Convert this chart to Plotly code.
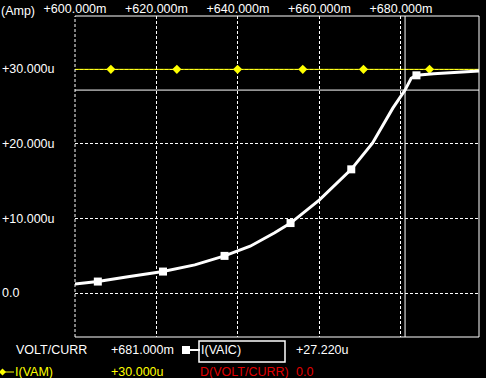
import plotly.graph_objects as go

# ---- data ----
x_ticks = [600, 620, 640, 660, 680]
x_tick_text = ["+600.000m", "+620.000m", "+640.000m", "+660.000m", "+680.000m"]
y_ticks = [0, 10, 20, 30]
y_tick_text = ["0.0", "+10.000u", "+20.000u", "+30.000u"]

vaic_x = [600, 605.6, 613, 621.6, 629.4, 636.7, 643, 649, 652.9, 660, 667.8, 673, 678, 681, 682.5, 683.8, 688, 693.6, 699.3]
vaic_y = [1.24, 1.56, 2.2, 2.9, 3.8, 5.0, 6.3, 8.1, 9.4, 12.5, 16.6, 20.1, 24.8, 27.22, 28.8, 29.2, 29.4, 29.6, 29.8]
vaic_mark_x = [605.6, 621.6, 636.7, 652.9, 667.8, 683.8]
vaic_mark_y = [1.56, 2.9, 5.0, 9.4, 16.6, 29.2]

vam_x = [600, 608.8, 625.0, 639.9, 655.9, 670.8, 687.0, 699.3]
vam_y = [30, 30, 30, 30, 30, 30, 30, 30]
vam_mark_x = [608.8, 625.0, 639.9, 655.9, 670.8, 687.0]
vam_mark_y = [30, 30, 30, 30, 30, 30]

cursor_x = 681.0
cursor_y = 27.22
cursor_label_x = "+681.000m"
cursor_label_y = "+27.220u"
vam_label = "+30.000u"
diff_label = "0.0"

X_RANGE = [600, 699.15]
Y_RANGE = [-5.87, 37.15]

FONT = "Liberation Sans, Arial, sans-serif"
FS = 12.5
WHITE = "#ffffff"
YELLOW = "#ffff00"
RED = "#e00000"
DASH = "3px,2px"

fig = go.Figure()

fig.add_trace(go.Scatter(x=vam_x, y=vam_y, mode="lines",
                         line=dict(color=YELLOW, width=1), hoverinfo="skip"))
fig.add_trace(go.Scatter(x=vam_mark_x, y=vam_mark_y, mode="markers",
                         marker=dict(symbol="diamond", size=7, color=YELLOW), hoverinfo="skip"))
fig.add_trace(go.Scatter(x=vaic_x, y=vaic_y, mode="lines",
                         line=dict(color=WHITE, width=3), hoverinfo="skip"))
fig.add_trace(go.Scatter(x=vaic_mark_x, y=vaic_mark_y, mode="markers",
                         marker=dict(symbol="square", size=8, color=WHITE), hoverinfo="skip"))

shapes = []
# frame (top, right, bottom)
for (x0, y0, x1, y1) in [(0, 1, 1, 1), (1, 0, 1, 1), (0, 0, 1, 0)]:
    shapes.append(dict(type="line", xref="paper", yref="paper", x0=x0, y0=y0, x1=x1, y1=y1,
                       line=dict(color=WHITE, width=1)))
shapes.append(dict(type="line", xref="paper", yref="paper", x0=0, y0=0, x1=0, y1=1,
                   line=dict(color=WHITE, width=1, dash=DASH)))
# cursors
shapes.append(dict(type="line", xref="x", yref="paper", x0=cursor_x, x1=cursor_x, y0=0, y1=1,
                   line=dict(color=WHITE, width=1)))
shapes.append(dict(type="line", xref="paper", yref="y", x0=0, x1=1, y0=cursor_y, y1=cursor_y,
                   line=dict(color=WHITE, width=1)))

PW, PH = 404.0, 321.0
L, T = 75.0, 16.0


def px(xp):
    return (xp - L) / PW


def py(yp):
    return (T + PH - yp) / PH


# legend symbols
shapes.append(dict(type="line", xref="paper", yref="paper", x0=px(182), x1=px(200), y0=py(350), y1=py(350),
                   line=dict(color=WHITE, width=2)))
shapes.append(dict(type="rect", xref="paper", yref="paper", x0=px(182), x1=px(190), y0=py(346), y1=py(354),
                   line=dict(color=WHITE, width=0), fillcolor=WHITE))
shapes.append(dict(type="rect", xref="paper", yref="paper", x0=px(199), x1=px(285), y0=py(341), y1=py(362),
                   line=dict(color=WHITE, width=1.5)))
shapes.append(dict(type="line", xref="paper", yref="paper", x0=px(0), x1=px(14), y0=py(372), y1=py(372),
                   line=dict(color=YELLOW, width=1)))
dcx, dcy, r = 2.5, 372.0, 3.5
shapes.append(dict(type="path", xref="paper", yref="paper",
                   path=f"M {px(dcx - r)},{py(dcy)} L {px(dcx)},{py(dcy - r)} L {px(dcx + r)},{py(dcy)} L {px(dcx)},{py(dcy + r)} Z",
                   fillcolor=YELLOW, line=dict(color=YELLOW, width=0)))

annotations = []
for v, t in zip(y_ticks, y_tick_text):
    annotations.append(dict(x=px(0), xref="paper", y=v, yref="y", text=t, showarrow=False,
                            xanchor="left", yanchor="middle", font=dict(color=WHITE, size=FS, family=FONT)))


def lab(xp, ypix, text, color):
    annotations.append(dict(x=px(xp), xref="paper", y=py(ypix), yref="paper", text=text, showarrow=False,
                            xanchor="left", yanchor="middle", font=dict(color=color, size=FS, family=FONT)))


lab(-1, 11, "(Amp)", WHITE)
lab(14, 350, "VOLT/CURR", WHITE)
lab(109, 350, cursor_label_x, WHITE)
lab(199, 350, "I(VAIC)", WHITE)
lab(294, 350, cursor_label_y, WHITE)
lab(13, 372, "I(VAM)", YELLOW)
lab(109, 372, vam_label, YELLOW)
lab(198, 372, "D(VOLT/CURR)", RED)
lab(294, 372, diff_label, RED)

fig.update_layout(
    width=486, height=378,
    margin=dict(l=75, r=7, t=16, b=41),
    paper_bgcolor="black", plot_bgcolor="black",
    showlegend=False,
    font=dict(family=FONT, size=FS, color=WHITE),
    xaxis=dict(range=X_RANGE, side="top", tickvals=x_ticks, ticktext=x_tick_text,
               showgrid=True, gridcolor=WHITE, griddash=DASH, gridwidth=1, automargin=False,
               zeroline=False, showline=False, ticks="", ticklen=0,
               tickfont=dict(color=WHITE, size=FS, family=FONT)),
    yaxis=dict(range=Y_RANGE, tickvals=y_ticks, showticklabels=False, automargin=False,
               showgrid=True, gridcolor=WHITE, griddash=DASH, gridwidth=1,
               zeroline=False, showline=False, ticks=""),
    shapes=shapes,
    annotations=annotations,
)

fig.write_html("out.html")
